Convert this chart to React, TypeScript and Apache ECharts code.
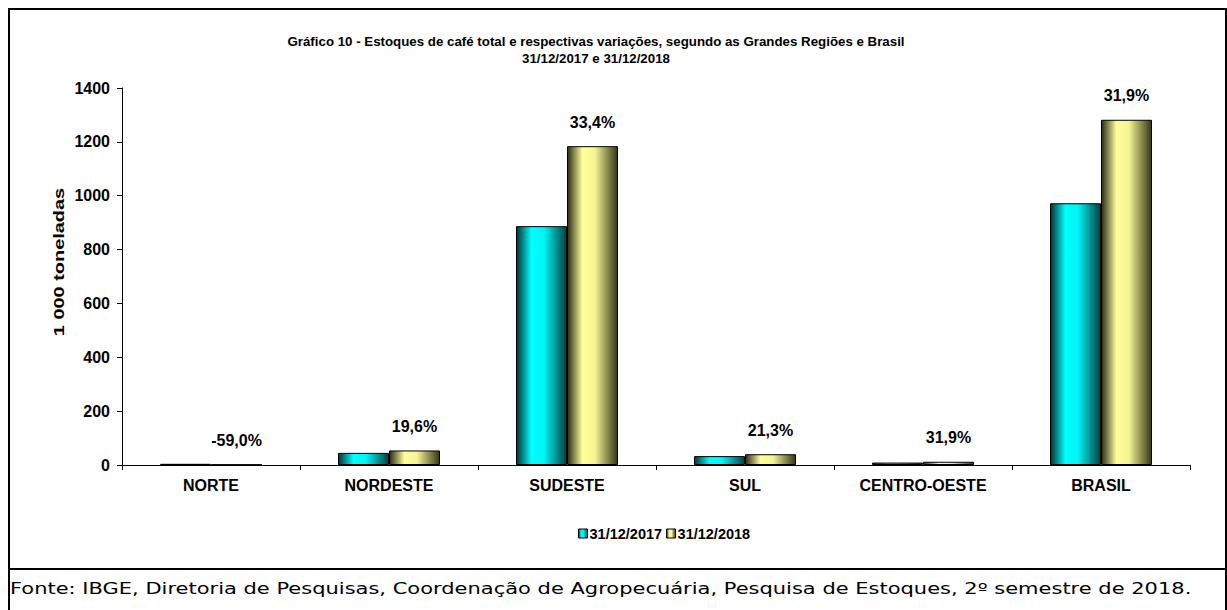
import React, { useEffect, useRef } from "react";
import * as echarts from "echarts";

const categories = ["NORTE", "NORDESTE", "SUDESTE", "SUL", "CENTRO-OESTE", "BRASIL"];
const seriesNames = ["31/12/2017", "31/12/2018"];
const stocks2017 = [4.4, 45, 887, 33, 9, 972];
const stocks2018 = [1.8, 54, 1184, 40, 12, 1282];
const variations = ["-59,0%", "19,6%", "33,4%", "21,3%", "31,9%", "31,9%"];
const titleLines = [
  "Gráfico 10 - Estoques de café total e respectivas variações, segundo as Grandes Regiões e Brasil",
  "31/12/2017 e 31/12/2018",
];
const yAxisTitle = "1 000 toneladas";
const sourceText =
  "Fonte: IBGE, Diretoria de Pesquisas, Coordenação de Agropecuária, Pesquisa de Estoques, 2º semestre de 2018.";

const FONT = "'Liberation Sans', Arial, sans-serif";

export default function App() {
  const ref = useRef<HTMLDivElement>(null);
  useEffect(() => {
    document.body.style.margin = "0";
    const chart = echarts.init(ref.current!, null, { renderer: "svg" });
    const cyanGrad = new echarts.graphic.LinearGradient(0, 0, 1, 0, [
      { offset: 0, color: "#003434" },
      { offset: 0.3, color: "#00ffff" },
      { offset: 0.55, color: "#00f4f4" },
      { offset: 1, color: "#004040" },
    ]);
    const yellowGrad = new echarts.graphic.LinearGradient(0, 0, 1, 0, [
      { offset: 0, color: "#2a2a12" },
      { offset: 0.3, color: "#ffff99" },
      { offset: 0.55, color: "#f4f494" },
      { offset: 1, color: "#36361a" },
    ]);
    chart.setOption({
      animation: false,
      backgroundColor: "#ffffff",
      title: {
        text: titleLines.join("\n"),
        left: 591,
        top: 28,
        textAlign: "center",
        textStyle: {
          fontFamily: FONT,
          fontWeight: "bold",
          fontSize: 13.3,
          lineHeight: 17,
          color: "#000",
          align: "center",
        },
      },
      legend: {
        data: seriesNames,
        top: 521,
        left: 573,
        itemWidth: 9,
        itemHeight: 9,
        itemGap: 4,
        icon: "rect",
        itemStyle: { borderColor: "#000", borderWidth: 1 },
        textStyle: { fontFamily: FONT, fontWeight: "bold", fontSize: 14.5, color: "#000", padding: [0, 0, 0, -3] },
      },
      grid: { left: 122, right: 37, top: 88, bottom: 145, containLabel: false },
      xAxis: {
        type: "category",
        data: categories,
        axisLine: { lineStyle: { color: "#000", width: 1 } },
        axisTick: { show: true, alignWithLabel: false, length: 5, lineStyle: { color: "#000" } },
        axisLabel: { fontFamily: FONT, fontWeight: "bold", fontSize: 16, color: "#000", margin: 12 },
      },
      yAxis: {
        type: "value",
        min: 0,
        max: 1400,
        interval: 200,
        axisLine: { show: true, lineStyle: { color: "#000", width: 1 } },
        axisTick: { show: true, length: 5, lineStyle: { color: "#000" } },
        splitLine: { show: false },
        axisLabel: {
          fontFamily: FONT,
          fontWeight: "bold",
          fontSize: 16,
          color: "#000",
          margin: 12,
          formatter: (v: number) => String(v),
        },
      },
      series: [
        {
          name: seriesNames[0],
          type: "bar",
          data: stocks2017,
          barWidth: 51,
          barGap: "0%",
          itemStyle: { color: cyanGrad, borderColor: "#000", borderWidth: 1 },
        },
        {
          name: seriesNames[1],
          type: "bar",
          data: stocks2018,
          barWidth: 51,
          barGap: "0%",
          itemStyle: { color: yellowGrad, borderColor: "#000", borderWidth: 1 },
          label: {
            show: true,
            position: "top",
            distance: 16,
            formatter: (p: any) => variations[p.dataIndex],
            fontFamily: FONT,
            fontWeight: "bold",
            fontSize: 16,
            color: "#000",
          },
        },
      ],
      color: ["#00ffff", "#ffff99"],
      graphic: [
        {
          type: "rect",
          shape: { x: 9, y: 9, width: 1217, height: 620 },
          style: { fill: "none", stroke: "#000", lineWidth: 2 },
          silent: true,
        },
        {
          type: "line",
          shape: { x1: 8, y1: 569, x2: 1227, y2: 569 },
          style: { stroke: "#000", lineWidth: 2 },
          silent: true,
        },
        {
          type: "text",
          x: 59,
          y: 262,
          rotation: Math.PI / 2,
          scaleX: 1.33,
          style: {
            text: yAxisTitle,
            fontFamily: FONT,
            fontWeight: "bold",
            fontSize: 15,
            fill: "#000",
            align: "center",
            verticalAlign: "middle",
          },
          silent: true,
        },
        {
          type: "text",
          x: 10,
          y: 589,
          scaleX: 1.4,
          style: {
            text: sourceText,
            fontFamily: "'DejaVu Sans', Verdana, sans-serif",
            fontSize: 15,
            fill: "#000",
            verticalAlign: "middle",
          },
          silent: true,
        },
      ],
    });
    return () => chart.dispose();
  }, []);
  return <div ref={ref} style={{ position: "absolute", left: 0, top: 0, width: 1227, height: 610 }} />;
}
